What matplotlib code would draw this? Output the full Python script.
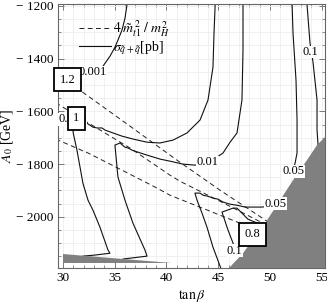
import matplotlib.pyplot as plt
from matplotlib.ticker import MultipleLocator, FixedLocator, FixedFormatter

plt.rcParams['font.family'] = ['Liberation Serif', 'DejaVu Serif']
plt.rcParams['mathtext.fontset'] = 'stix'

# cross section contours sigma [pb] (tan beta, A0)
sig_0001_tb = [36.3, 36.18, 35.99, 35.70, 35.31, 35.02, 34.54, 34.15, 33.86, 31.84, 29.3]
sig_0001_a0 = [-1180, -1197, -1247, -1292, -1330, -1357, -1391, -1413, -1429, -1467, -1495]

sig_0005_tb = [44.7, 44.69, 44.59, 44.49, 44.01, 43.24, 41.98, 40.63, 39.37, 38.12, 36.76,
               35.70, 34.83, 34.06, 33.77, 33.29, 32.90, 32.32, 31.64, 31.16, 30.97, 31.35,
               31.93, 32.42, 32.90, 33.57, 34.35, 34.54, 33.09, 31.93]
sig_0005_a0 = [-1180, -1205, -1303, -1432, -1557, -1633, -1682, -1709, -1720, -1717, -1705,
               -1694, -1682, -1671, -1663, -1663, -1660, -1645, -1641, -1652, -1678, -1747,
               -1873, -1937, -1975, -2039, -2126, -2138, -2145, -2149]

sig_001_tb = [47.39, 47.39, 47.29, 46.81, 46.14, 45.46, 44.01, 42.75, 41.59, 40.34, 39.37,
              38.12, 37.25, 36.67, 36.28, 35.99, 35.51, 35.02, 35.31, 35.99, 36.76, 37.92,
              38.12, 35.80]
sig_001_a0 = [-1180, -1368, -1557, -1682, -1717, -1758, -1797, -1804, -1800, -1789, -1781,
              -1766, -1755, -1747, -1739, -1736, -1720, -1728, -1849, -1937, -2024, -2126,
              -2149, -2160]

sig_005a_tb = [45.3, 44.49, 43.91, 43.43, 42.95, 42.75, 43.24, 43.53, 44.01, 44.49, 44.98,
               45.46, 46.14, 46.81, 47.58, 48.26, 49.23, 50.48]
sig_005a_a0 = [-2200, -2115, -2039, -1986, -1937, -1910, -1910, -1918, -1922, -1929, -1933,
               -1944, -1952, -1956, -1963, -1963, -1963, -1956]

sig_005b_tb = [52.12, 52.13, 52.22, 52.51, 52.61, 52.61, 52.42, 52.22]
sig_005b_a0 = [-1180, -1193, -1303, -1482, -1633, -1758, -1796, -1827]

sig_01a_tb = [53.55, 53.57, 53.86, 54.15, 54.54, 54.54, 54.64]
sig_01a_a0 = [-1180, -1193, -1341, -1413, -1557, -1671, -1728]

sig_01b_tb = [46.62, 46.43, 45.94, 45.36, 45.85, 46.43, 46.81, 47.29, 47.87, 48.55, 49.23]
sig_01b_a0 = [-2126, -2100, -2050, -1982, -1975, -1967, -1967, -1986, -2009, -2020, -2032]

# 4 m_t1^2 / m_H^2 contours
ratio_12_tb = [29.3, 31.64, 36.47, 41.01, 45.17, 50.0, 51.0]
ratio_12_a0 = [-1452, -1520, -1656, -1785, -1899, -2024, -2050]
ratio_1_tb = [29.3, 32.32, 36.47, 40.34, 41.30, 45.17, 49.32, 50.3]
ratio_1_a0 = [-1567, -1641, -1739, -1842, -1865, -1941, -2024, -2045]
ratio_08_tb = [29.3, 30.0, 32.42, 35.70, 38.89, 40.34, 43.72, 47.10, 48.0]
ratio_08_a0 = [-1705, -1717, -1758, -1823, -1887, -1918, -1971, -2024, -2040]

# excluded regions
excl_right_tb = [46.04, 47.39, 49.71, 50.97, 52.42, 53.57, 54.54, 55.5, 55.5]
excl_right_a0 = [-2194, -2138, -2013, -1937, -1849, -1785, -1728, -1690, -2194]
excl_left_tb = [30.0, 40.5, 30.0]
excl_left_a0 = [-2141, -2175, -2175]

xticks = [30, 35, 40, 45, 50, 55]
yticks = [-2000, -1800, -1600, -1400, -1200]
ytick_labels = ['\u2212 2000', '\u2212 1800', '\u2212 1600', '\u2212 1400', '\u2212 1200']

fig = plt.figure(figsize=(3.27, 3.06), dpi=100)
ax = fig.add_axes([58 / 327, 1 - 268 / 306, 267 / 327, 264 / 306])

ax.set_xlim(29.52, 55.31)
ax.set_ylim(-2194, -1193)

# grid
ax.xaxis.set_minor_locator(MultipleLocator(1))
ax.yaxis.set_minor_locator(MultipleLocator(50))
ax.grid(True, which='both', color='#f0f0f0', lw=0.7, zorder=0)
ax.set_axisbelow(True)

dash = (0, (5, 3.5))
ax.plot(ratio_12_tb, ratio_12_a0, color='#222222', lw=0.7, ls=dash, zorder=2,
        label=r'$4\;\tilde{m}_{t1}^{\,2}\;/\;m_H^2$')
ax.plot(ratio_1_tb, ratio_1_a0, color='#222222', lw=0.7, ls=dash, zorder=2)
ax.plot(ratio_08_tb, ratio_08_a0, color='#222222', lw=0.7, ls=dash, zorder=2)

ax.plot(sig_0001_tb, sig_0001_a0, color='#111111', lw=0.8, zorder=2,
        label=r'$\sigma_{\tilde{q}+\tilde{q}}$[pb]')
for tb, a0 in [(sig_0005_tb, sig_0005_a0), (sig_001_tb, sig_001_a0),
               (sig_005a_tb, sig_005a_a0), (sig_005b_tb, sig_005b_a0),
               (sig_01a_tb, sig_01a_a0), (sig_01b_tb, sig_01b_a0)]:
    ax.plot(tb, a0, color='#111111', lw=0.8, zorder=2)

ax.fill(excl_right_tb, excl_right_a0, color='#808080', lw=0, zorder=3)
ax.fill(excl_left_tb, excl_left_a0, color='#808080', lw=0, zorder=3)

# contour labels
lab = dict(fontsize=9, ha='center', va='center', zorder=5,
           bbox=dict(fc='white', ec='none', pad=0.3))
ax.text(32.9, -1451, '0.001', **lab)
ax.text(29.55, -1630, '0.005', fontsize=9, ha='left', va='center', zorder=5,
        bbox=dict(fc='white', ec='none', pad=0.3))
ax.text(43.95, -1793, '0.01', **lab)
ax.text(50.5, -1950, '0.05', **lab)
ax.text(52.25, -1827, '0.05', **lab)
ax.text(53.86, -1375, '0.1', **lab)
ax.text(46.6, -2128, '0.1', **lab)

# boxed labels of the dashed contours
box = dict(fontsize=9, ha='center', va='center', zorder=6,
           bbox=dict(boxstyle='square,pad=0.45', fc='white', ec='black', lw=1.3))
ax.text(30.48, -1480, '1.2', **box)
ax.text(31.30, -1626, '1', **box)
ax.text(48.31, -2066, '0.8', **box)

ax.legend(loc='upper left', bbox_to_anchor=(0.08, 0.945), frameon=False,
          fontsize=10, handlelength=2.3, handletextpad=0.15, labelspacing=0.0,
          borderpad=0, borderaxespad=0)

ax.xaxis.set_major_locator(FixedLocator(xticks))
ax.yaxis.set_major_locator(FixedLocator(yticks))
ax.yaxis.set_major_formatter(FixedFormatter(ytick_labels))
ax.tick_params(which='both', direction='in', top=True, right=True,
               color='#666666', labelsize=9.5, pad=3)
ax.tick_params(which='major', length=4, width=0.6)
ax.tick_params(which='minor', length=2, width=0.5)
for s in ax.spines.values():
    s.set_color('#666666')
    s.set_linewidth(0.8)

ax.set_xlabel(r'$\tan\beta$', fontsize=10, labelpad=3)
ax.set_ylabel(r'$A_0$ [GeV]', fontsize=10, labelpad=1)

fig.savefig('out.png', dpi=100)
